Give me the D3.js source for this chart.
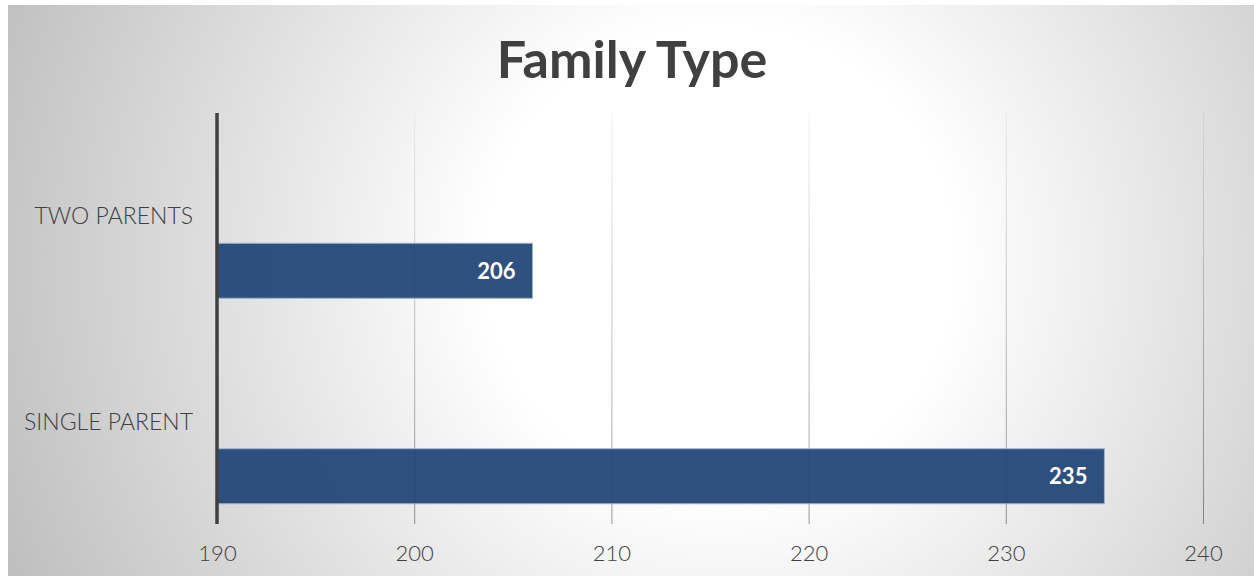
<!DOCTYPE html>
<html><head><meta charset="utf-8">
<script src="https://cdn.jsdelivr.net/npm/d3@7"></script>
<style>html,body{margin:0;padding:0;background:#fff;}svg{display:block;}</style>
</head><body>
<svg id="c" width="1254" height="576"></svg>
<script>
const title = "Family Type";
const categories = ["TWO PARENTS", "SINGLE PARENT"];
const values = [206, 235];
const seriesSlots = [0, 1, 2]; // clustered slots; only the last holds data
const dataSlot = 2;
const xTicks = [190, 200, 210, 220, 230, 240];

const svg = d3.select("#c");
const W = 1254, H = 576;
const defs = svg.append("defs");

const bg = defs.append("radialGradient").attr("id","bg")
  .attr("gradientUnits","userSpaceOnUse").attr("cx",720).attr("cy",260).attr("r",780);
bg.append("stop").attr("offset",0).attr("stop-color","#ffffff");
bg.append("stop").attr("offset",0.3).attr("stop-color","#ffffff");
bg.append("stop").attr("offset",1).attr("stop-color","#bebebe");

const m = {top:113, bottom:524, left:217, right:1203};

const gg = defs.append("linearGradient").attr("id","grid")
  .attr("gradientUnits","userSpaceOnUse").attr("x1",0).attr("x2",0).attr("y1",m.top).attr("y2",m.bottom);
gg.append("stop").attr("offset",0).attr("stop-color","#000").attr("stop-opacity",0.05);
gg.append("stop").attr("offset",1).attr("stop-color","#000").attr("stop-opacity",0.4);

svg.append("rect").attr("x",8).attr("y",5).attr("width",W-8).attr("height",H-5).attr("fill","url(#bg)");

const x = d3.scaleLinear().domain([190,240]).range([m.left, m.right]);
const y = d3.scaleBand().domain(categories).range([m.top, m.bottom]).paddingInner(0).paddingOuter(0);
const inner = d3.scaleBand().domain(seriesSlots).range([0, y.bandwidth()]).paddingInner(0).paddingOuter(0.368);

const font = "Lato, 'Open Sans', sans-serif";

// gridlines
svg.append("g").selectAll("line").data(xTicks.slice(1)).join("line")
  .attr("x1",d=>x(d)+0.5).attr("x2",d=>x(d)+0.5)
  .attr("y1",m.top).attr("y2",m.bottom)
  .attr("stroke","url(#grid)").attr("stroke-width",1);

// bars
svg.append("g").selectAll("rect").data(categories).join("rect")
  .attr("x", x(190))
  .attr("y", d => y(d) + inner(dataSlot))
  .attr("width", (d,i) => x(values[i]) - x(190))
  .attr("height", inner.bandwidth())
  .attr("fill","#1f4475").attr("fill-opacity",0.93)
  .attr("stroke","#9db2cf").attr("stroke-width",1);

// value labels
svg.append("g").selectAll("text").data(categories).join("text")
  .attr("x",(d,i)=>x(values[i]) - 17)
  .attr("y",d => y(d) + inner(dataSlot) + inner.bandwidth()/2)
  .attr("dy","0.36em")
  .attr("text-anchor","end")
  .attr("font-family",font).attr("font-weight","bold").attr("font-size",22)
  .attr("fill","#ffffff")
  .text((d,i)=>values[i]);

// y axis line
svg.append("line").attr("x1",m.left).attr("x2",m.left)
  .attr("y1",m.top).attr("y2",m.bottom)
  .attr("stroke","#404040").attr("stroke-width",3.5);

// category labels
svg.append("g").selectAll("text").data(categories).join("text")
  .attr("x",193).attr("y",d=>y(d)+y.bandwidth()/2).attr("dy","0.36em")
  .attr("text-anchor","end")
  .attr("font-family",font).attr("font-weight",300).attr("font-size",23)
  .attr("fill","#404040")
  .text(d=>d);

// x axis tick labels
const xa = svg.append("g").attr("transform",`translate(0,${m.bottom})`)
  .call(d3.axisBottom(x).tickValues(xTicks).tickSize(0).tickPadding(21).tickFormat(d3.format("d")));
xa.select(".domain").remove();
xa.selectAll("text").attr("font-family",font).attr("font-weight",300).attr("font-size",22).attr("fill","#404040");

// title
svg.append("text").attr("x",632).attr("y",78).attr("text-anchor","middle")
  .attr("font-family",font).attr("font-weight","bold").attr("font-size",52)
  .attr("fill","#404040").text(title);
</script>
</body></html>
